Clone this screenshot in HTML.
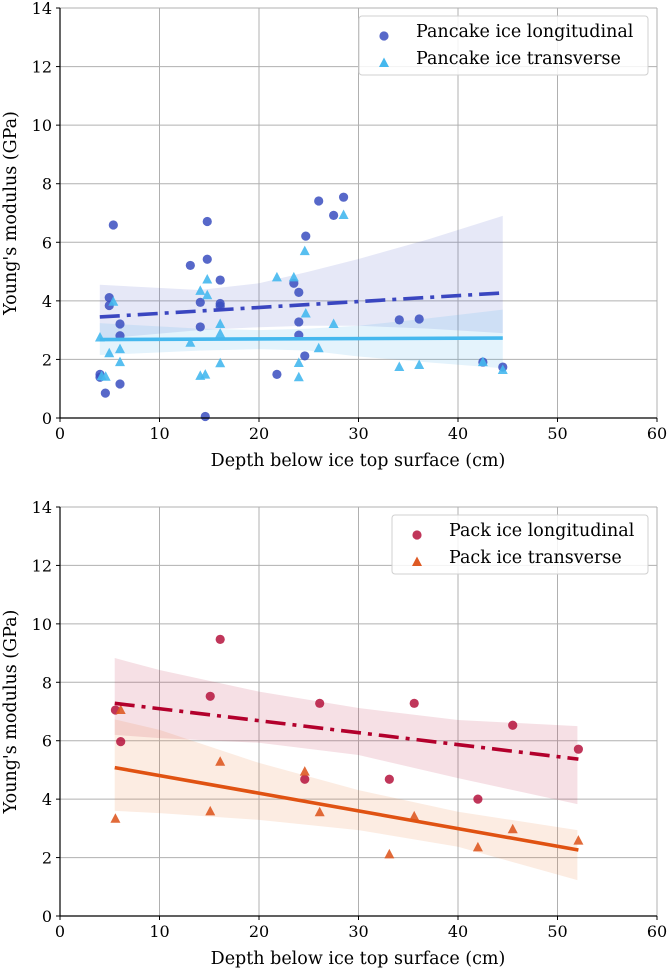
<!DOCTYPE html>
<html><head><meta charset="utf-8">
<style>
body{margin:0;background:#fff;}
svg{display:block;font-family:"DejaVu Serif","Liberation Serif",serif;}
</style></head>
<body>
<svg id="chart" width="667" height="969" viewBox="0 0 667 969" xmlns="http://www.w3.org/2000/svg"></svg>
<script>
// ---- Panel 1: Pancake ice ----
const pancakeLongX = [5.36,4.95,4.95,6.03,6.03,4.02,4.02,4.56,6.03,14.8,13.1,14.8,16.1,14.1,16.1,16.1,14.1,14.6,21.8,23.5,24.0,24.0,24.0,24.6,24.7,26.0,27.5,28.5,34.1,36.1,42.5,44.5];
const pancakeLongY = [6.59,4.11,3.84,3.21,2.81,1.49,1.39,0.85,1.16,6.71,5.21,5.42,4.71,3.95,3.91,3.82,3.11,0.05,1.49,4.6,4.29,3.28,2.83,2.12,6.21,7.41,6.92,7.54,3.35,3.38,1.91,1.74];
const pancakeTransX = [5.36,4.02,4.95,6.03,6.03,4.19,4.59,14.8,14.1,14.8,16.1,16.1,13.1,16.1,14.1,14.6,21.8,23.5,24.6,24.7,26.0,27.5,28.5,24.0,24.0,34.1,36.1,42.5,44.5];
const pancakeTransY = [3.97,2.75,2.21,2.35,1.91,1.43,1.41,4.73,4.34,4.19,3.21,2.88,2.57,1.87,1.44,1.48,4.8,4.8,5.7,3.57,2.38,3.21,6.93,1.88,1.39,1.74,1.81,1.91,1.64];
const pancakeFitX = [4, 44.5];
const pancakeLongFit = [3.45, 4.27];
const pancakeTransFit = [2.68, 2.73];
const pancakeBandX = [4,14,20,25,30,37,44.5];
const pancakeLongUpper = [4.55,4.37,4.6,5.0,5.43,6.1,6.9];
const pancakeLongLower = [2.7,3.0,3.1,3.15,3.15,3.05,2.9];
const pancakeTransUpper = [3.24,3.05,3.0,3.05,3.15,3.4,3.7];
const pancakeTransLower = [2.15,2.3,2.35,2.3,2.1,1.9,1.7];
// ---- Panel 2: Pack ice ----
const packLongX = [5.57,6.1,16.1,15.1,26.1,24.6,35.6,33.1,42.0,45.5,52.1];
const packLongY = [7.05,5.97,9.47,7.52,7.28,4.68,7.28,4.68,4.0,6.53,5.71];
const packTransX = [6.1,5.57,15.1,16.1,24.6,26.1,33.1,35.6,42.0,45.5,52.1];
const packTransY = [7.05,3.33,3.58,5.28,4.94,3.55,2.11,3.41,2.35,2.97,2.58];
const packFitX = [5.5, 52.1];
const packLongFit = [7.28, 5.37];
const packTransFit = [5.08, 2.26];
const packBandX = [5.5,10,20,30,40,52];
const packLongUpper = [8.83,8.42,7.68,7.12,6.71,6.5];
const packLongLower = [6.2,6.09,5.93,5.51,4.72,3.83];
const packTransUpper = [6.73,6.37,5.24,4.31,3.57,2.94];
const packTransLower = [3.6,3.52,3.29,2.94,2.37,1.23];
const xTicks = [0,10,20,30,40,50,60];
const yTicks = [0,2,4,6,8,10,12,14];

const NS = "http://www.w3.org/2000/svg";
const svg = document.getElementById('chart');
function mk(tag, attrs, parent){
  const e = document.createElementNS(NS, tag);
  for (const k in attrs) e.setAttribute(k, attrs[k]);
  (parent||svg).appendChild(e);
  return e;
}
function panel(cfg){
  const L=60,R=657,T=cfg.top,B=cfg.bottom;
  const sx = v => L + (v/60)*(R-L);
  const sy = v => B - (v/14)*(B-T);
  const g = mk('g',{});
  
  
  xTicks.forEach(t=>{
    const l = mk('line',{x1:sx(t),x2:sx(t),y1:T,y2:B,stroke:'#b0b0b0','stroke-width':1},g);
    
    
  });
  yTicks.forEach(t=>{
    const l = mk('line',{x1:L,x2:R,y1:sy(t),y2:sy(t),stroke:'#b0b0b0','stroke-width':1},g);
    
    
  });
  function band(xs, up, lo, fill, op, nm){
    let d = '';
    xs.forEach((x,i)=>{ d += (i?'L':'M') + sx(x) + ' ' + sy(up[i]) + ' '; });
    for (let i=xs.length-1;i>=0;i--) d += 'L' + sx(xs[i]) + ' ' + sy(lo[i]) + ' ';
    const p = mk('path',{d:d+'Z',fill:fill,'fill-opacity':op},g);
    
    
  }
  band(cfg.bandX, cfg.aUp, cfg.aLo, cfg.aBand, 0.15, 'confidence-band-longitudinal');
  band(cfg.bandX, cfg.bUp, cfg.bLo, cfg.bBand, 0.15, 'confidence-band-transverse');
  cfg.ax.forEach((x,i)=>{
    const c = mk('circle',{cx:sx(x),cy:sy(cfg.ay[i]),r:4.6,fill:cfg.aCol,'fill-opacity':0.85},g);
    
    
  });
  cfg.bx.forEach((x,i)=>{
    const cx=sx(x), cy=sy(cfg.by[i]);
    const p = mk('polygon',{points:`${cx},${cy-5.5} ${cx+5},${cy+4} ${cx-5},${cy+4}`,fill:cfg.bCol,'fill-opacity':0.9},g);
    
    
  });
  const l1 = mk('line',{x1:sx(cfg.fitX[0]),y1:sy(cfg.aFit[0]),x2:sx(cfg.fitX[1]),y2:sy(cfg.aFit[1]),stroke:cfg.aLine,'stroke-width':3.6,'stroke-dasharray':'20 7 4 7'},g);
  
  
  const l2 = mk('line',{x1:sx(cfg.fitX[0]),y1:sy(cfg.bFit[0]),x2:sx(cfg.fitX[1]),y2:sy(cfg.bFit[1]),stroke:cfg.bLine,'stroke-width':3.6},g);
  
  
  const ax = mk('path',{d:`M${L} ${T} V${B} H${R}`,fill:'none',stroke:'#000','stroke-width':1.2},g);
  
  
  xTicks.forEach(t=>{
    mk('line',{x1:sx(t),x2:sx(t),y1:B,y2:B+4,stroke:'#000'},g);
    const tx = mk('text',{x:sx(t),y:B+21,'text-anchor':'middle','font-size':16},g);
    tx.textContent = t;
    
    
  });
  yTicks.forEach(t=>{
    mk('line',{x1:L-4,x2:L,y1:sy(t),y2:sy(t),stroke:'#000'},g);
    const tx = mk('text',{x:L-8,y:sy(t)+6,'text-anchor':'end','font-size':16},g);
    tx.textContent = t;
    
    
  });
  const xt = mk('text',{x:358,y:B+48,'text-anchor':'middle','font-size':17.5},g);
  xt.textContent = 'Depth below ice top surface (cm)';
  
  
  const yt = mk('text',{x:0,y:0,'text-anchor':'middle','font-size':17.5,transform:`translate(16 ${(T+B)/2}) rotate(-90)`},g);
  yt.textContent = "Young's modulus (GPa)";
  
  
  const lg = mk('g',{},g);
  
  
  mk('rect',{x:cfg.legX,y:T+8,width:648-cfg.legX,height:59,rx:3,fill:'#fff','fill-opacity':0.85,stroke:'#d0d0d0'},lg);
  const e1 = mk('circle',{cx:cfg.legX+25,cy:T+28,r:4.6,fill:cfg.aCol,'fill-opacity':0.85},lg);
  
  
  const ex=cfg.legX+25, ey=T+55;
  const e2 = mk('polygon',{points:`${ex},${ey-5.5} ${ex+5},${ey+4} ${ex-5},${ey+4}`,fill:cfg.bCol},lg);
  
  
  const t1 = mk('text',{x:cfg.legX+57,y:T+29,'font-size':17.5},lg);
  t1.textContent = cfg.aLabel;
  
  
  const t2 = mk('text',{x:cfg.legX+57,y:T+56,'font-size':17.5},lg);
  t2.textContent = cfg.bLabel;
  
  
}
panel({name:'pancake-ice-chart',top:8,bottom:418,legX:359,
  ax:pancakeLongX,ay:pancakeLongY,bx:pancakeTransX,by:pancakeTransY,
  fitX:pancakeFitX,aFit:pancakeLongFit,bFit:pancakeTransFit,
  bandX:pancakeBandX,aUp:pancakeLongUpper,aLo:pancakeLongLower,bUp:pancakeTransUpper,bLo:pancakeTransLower,
  aCol:'#3a4dbf',bCol:'#45b8ee',aLine:'#3a46c0',bLine:'#45b8ee',aBand:'#5566c8',bBand:'#4ab0ea',
  aLabel:'Pancake ice longitudinal',bLabel:'Pancake ice transverse'});
panel({name:'pack-ice-chart',top:507,bottom:916,legX:392,
  ax:packLongX,ay:packLongY,bx:packTransX,by:packTransY,
  fitX:packFitX,aFit:packLongFit,bFit:packTransFit,
  bandX:packBandX,aUp:packLongUpper,aLo:packLongLower,bUp:packTransUpper,bLo:packTransLower,
  aCol:'#b5133d',bCol:'#de5a24',aLine:'#b3002c',bLine:'#e05212',aBand:'#c0304e',bBand:'#e8803f',
  aLabel:'Pack ice longitudinal',bLabel:'Pack ice transverse'});
</script>
</body></html>
